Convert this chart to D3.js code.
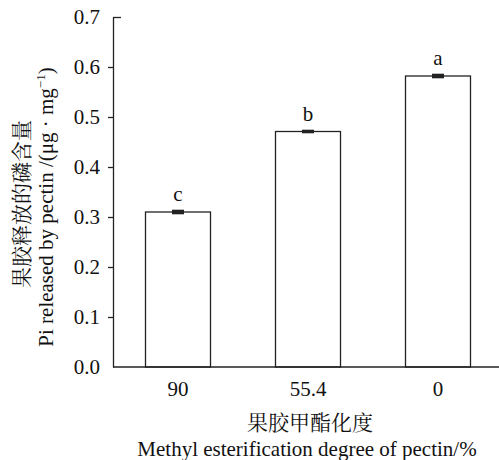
<!DOCTYPE html>
<html><head><meta charset="utf-8">
<script src="https://cdn.jsdelivr.net/npm/d3@7"></script>
<style>
body{margin:0;background:#fff;}
svg{display:block;}
.serif{font-family:"Liberation Serif","Times New Roman",serif;}
.cjk{font-family:"Noto Serif CJK SC","Noto Sans CJK SC",sans-serif;}
</style></head>
<body><svg id="chart" width="499" height="460"></svg>
<script>
const categories = ["90", "55.4", "0"];
const values = [0.310, 0.471, 0.582];
const errors = [0.003, 0.002, 0.003];
const letters = ["c", "b", "a"];
const yTicks = [0.0, 0.1, 0.2, 0.3, 0.4, 0.5, 0.6, 0.7];

const svg = d3.select("#chart");
const ink = "#222";
const x = d3.scaleBand().domain(categories).range([113, 503]).paddingInner(0.5).paddingOuter(0.25);
const y = d3.scaleLinear().domain([0, 0.7]).range([367, 17]);

// bars
svg.selectAll("rect.bar").data(values).enter().append("rect")
  .attr("x", (d,i)=>x(categories[i]))
  .attr("y", d=>y(d))
  .attr("width", x.bandwidth())
  .attr("height", d=>y(0)-y(d))
  .attr("fill", "#fff").attr("stroke", ink).attr("stroke-width", 1.3);

// error bars
const eg = svg.selectAll("g.err").data(values).enter().append("g")
  .attr("stroke", ink).attr("stroke-width", 1.6);
eg.append("line")
  .attr("x1", (d,i)=>x(categories[i])+x.bandwidth()/2)
  .attr("x2", (d,i)=>x(categories[i])+x.bandwidth()/2)
  .attr("y1", (d,i)=>y(d+errors[i])).attr("y2", (d,i)=>y(d-errors[i]));
[1,-1].forEach(s=>{
  eg.append("line")
    .attr("x1", (d,i)=>x(categories[i])+x.bandwidth()/2-6)
    .attr("x2", (d,i)=>x(categories[i])+x.bandwidth()/2+6)
    .attr("y1", (d,i)=>y(d+s*errors[i])).attr("y2", (d,i)=>y(d+s*errors[i]));
});
svg.selectAll("rect.errblk").data(values).enter().append("rect")
  .attr("x", (d,i)=>x(categories[i])+x.bandwidth()/2-6)
  .attr("y", (d,i)=>y(d+errors[i]))
  .attr("width", 12)
  .attr("height", (d,i)=>y(d-errors[i])-y(d+errors[i]))
  .attr("fill", ink);

// significance letters
svg.selectAll("text.sig").data(values).enter().append("text")
  .attr("class","serif")
  .attr("x", (d,i)=>x(categories[i])+x.bandwidth()/2)
  .attr("y", (d,i)=>y(d+errors[i])-10)
  .attr("text-anchor","middle").attr("font-size", 21).attr("fill", "#111")
  .text((d,i)=>letters[i]);

// y axis
const ya = svg.append("g").attr("transform","translate(113,0)")
  .call(d3.axisLeft(y).tickValues(yTicks).tickFormat(d3.format(".1f")).tickSize(5).tickSizeOuter(0).tickPadding(8));
ya.select(".domain").attr("stroke", ink).attr("stroke-width", 1.3);
ya.selectAll(".tick line").attr("stroke", ink).attr("stroke-width", 1.3);
ya.selectAll(".tick").filter(d=>d===0).select("line").remove();
ya.selectAll(".tick").filter(d=>Math.abs(d-0.7)<1e-9).select("line").attr("x2", 8);
ya.selectAll(".tick text").attr("class","serif").attr("font-size", 21).attr("fill","#111");
ya.attr("font-family", null);

// x axis
const xa = svg.append("g").attr("transform","translate(0,367)")
  .call(d3.axisBottom(x).tickSize(0).tickSizeOuter(0).tickPadding(14));
xa.select(".domain").attr("stroke", ink).attr("stroke-width", 1.3).attr("d", "M113,0H499");
xa.selectAll(".tick text").attr("class","serif").attr("font-size", 21).attr("fill","#111");
xa.attr("font-family", null);

// x titles
svg.append("text").attr("class","cjk").attr("x", 310).attr("y", 430)
  .attr("text-anchor","middle").attr("font-size", 21).attr("fill","#111").text("果胶甲酯化度");
svg.append("text").attr("class","serif").attr("x", 307).attr("y", 456)
  .attr("text-anchor","middle").attr("font-size", 21).attr("fill","#111").text("Methyl esterification degree of pectin/%");

// y titles
svg.append("text").attr("class","cjk").attr("transform","translate(29,204) rotate(-90)")
  .attr("text-anchor","middle").attr("font-size", 21).attr("fill","#111").text("果胶释放的磷含量");
const yt = svg.append("text").attr("class","serif").attr("transform","translate(53,207) rotate(-90)")
  .attr("text-anchor","middle").attr("font-size", 21).attr("fill","#111");
yt.append("tspan").text("Pi released by pectin /(μg · mg");
yt.append("tspan").attr("font-size", 13).attr("dy", -8).text("−1");
yt.append("tspan").attr("dy", 8).text(")");
</script></body></html>
